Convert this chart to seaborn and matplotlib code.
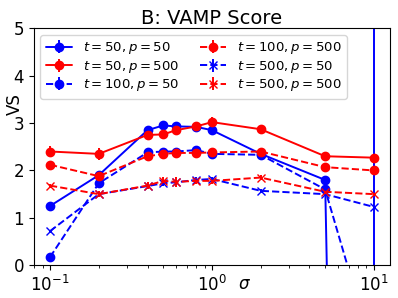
import matplotlib
matplotlib.use("Agg")
import matplotlib.pyplot as plt
import numpy as np
import seaborn as sns

# noise levels
sigma = [0.1, 0.2, 0.4, 0.5, 0.6, 0.8, 1.0, 2.0, 5.0, 10.0]

# VAMP scores
vs_t50_p50 = [1.25, 1.9, 2.85, 2.95, 2.93, 2.92, 2.85, 2.35, 1.8, -50.0]
vs_t50_p500 = [2.4, 2.35, 2.75, 2.76, 2.85, 2.93, 3.02, 2.87, 2.3, 2.27]
vs_t100_p50 = [0.17, 1.73, 2.38, 2.4, 2.4, 2.43, 2.35, 2.33, 1.6, -1.9]
vs_t100_p500 = [2.12, 1.88, 2.3, 2.35, 2.37, 2.37, 2.38, 2.4, 2.07, 2.0]
vs_t500_p50 = [0.72, 1.5, 1.67, 1.73, 1.75, 1.8, 1.82, 1.57, 1.5, 1.23]
vs_t500_p500 = [1.68, 1.5, 1.68, 1.78, 1.76, 1.78, 1.78, 1.85, 1.55, 1.5]

# error bars
err_t50_p50 = [0.03, 0.05, 0.08, 0.05, 0.05, 0.05, 0.05, 0.05, 0.05, 60.0]
err_t50_p500 = [0.12, 0.13, 0.1, 0.1, 0.1, 0.08, 0.1, 0.07, 0.03, 0.03]
err_t100_p50 = [0.03, 0.04, 0.05, 0.05, 0.05, 0.05, 0.05, 0.04, 0.05, 0.1]
err_t100_p500 = [0.05, 0.08, 0.07, 0.06, 0.06, 0.06, 0.05, 0.05, 0.03, 0.03]
err_t500_p50 = [0.02, 0.03, 0.05, 0.06, 0.05, 0.06, 0.05, 0.03, 0.03, 0.03]
err_t500_p500 = [0.04, 0.06, 0.07, 0.08, 0.1, 0.07, 0.06, 0.05, 0.05, 0.03]

series = [
    (vs_t50_p50, err_t50_p50, 'blue', '-', 'o', r'$t=50, p=50$'),
    (vs_t50_p500, err_t50_p500, 'red', '-', 'o', r'$t=50, p=500$'),
    (vs_t100_p50, err_t100_p50, 'blue', '--', 'o', r'$t=100, p=50$'),
    (vs_t100_p500, err_t100_p500, 'red', '--', 'o', r'$t=100, p=500$'),
    (vs_t500_p50, err_t500_p50, 'blue', '--', 'x', r'$t=500, p=50$'),
    (vs_t500_p500, err_t500_p500, 'red', '--', 'x', r'$t=500, p=500$'),
]

sns.set_style("ticks")
plt.rcParams['font.family'] = ['DejaVu Sans']
for key in ['text.color', 'axes.labelcolor', 'xtick.color', 'ytick.color', 'axes.edgecolor']:
    plt.rcParams[key] = 'black'

fig, ax = plt.subplots(figsize=(3.98, 2.98), dpi=100)
for vals, errs, col, ls, mk, lab in series:
    ax.errorbar(sigma, vals, yerr=errs, color=col, linestyle=ls, marker=mk,
                markersize=6, linewidth=1.4, label=lab)

ax.set_xscale('log')
ax.set_ylim(0, 5)
ax.set_yticks([0, 1, 2, 3, 4, 5])
ax.tick_params(labelsize=12)
ax.set_title('B: VAMP Score', fontsize=14, pad=3)
ax.set_ylabel('VS', fontsize=12)
ax.yaxis.set_label_coords(-0.027, 0.68)
ax.set_xlabel(r'$\sigma$', fontsize=12)
ax.xaxis.set_label_coords(0.59, -0.04)
ax.legend(ncol=2, loc='upper left', fontsize=9.5, handlelength=2,
          columnspacing=1.6, labelspacing=0.2, borderpad=0.4)

plt.subplots_adjust(left=0.085, right=0.98, top=0.905, bottom=0.11)
plt.savefig('out.png', dpi=100)
